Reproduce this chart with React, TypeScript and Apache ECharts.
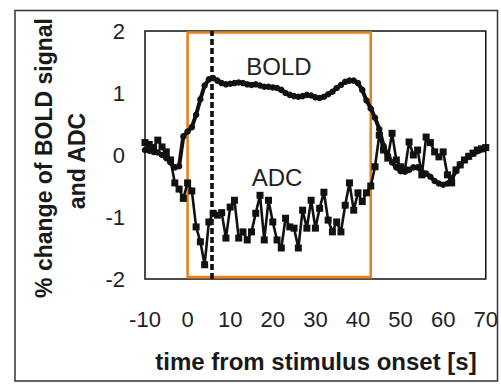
import React, { useEffect, useRef } from "react";
import * as echarts from "echarts";

const TIMES = [
  -10, -9, -8, -7, -6, -5, -4, -3, -2, -1,
  0, 1, 2, 3, 4, 5, 6, 7, 8, 9,
  10, 11, 12, 13, 14, 15, 16, 17, 18, 19,
  20, 21, 22, 23, 24, 25, 26, 27, 28, 29,
  30, 31, 32, 33, 34, 35, 36, 37, 38, 39,
  40, 41, 42, 43, 44, 45, 46, 47, 48, 49,
  50, 51, 52, 53, 54, 55, 56, 57, 58, 59,
  60, 61, 62, 63, 64, 65, 66, 67, 68, 69, 70,
];

const BOLD = [
  0.08, 0.07, 0.05, 0.04, 0.0, -0.05, -0.12, -0.2, -0.18, 0.3,
  0.38, 0.45, 0.65, 0.9, 1.12, 1.22, 1.24, 1.2, 1.16, 1.14,
  1.15, 1.16, 1.17, 1.16, 1.14, 1.13, 1.14, 1.12, 1.1, 1.1,
  1.09, 1.08, 1.05, 1.0, 0.97, 0.95, 0.94, 0.95, 0.97, 0.96,
  0.93, 0.92, 0.94, 0.98, 1.02, 1.08, 1.13, 1.18, 1.2, 1.2,
  1.16, 1.05, 0.88, 0.75, 0.6, 0.42, 0.15, 0.0, -0.12, -0.2,
  -0.26, -0.27, -0.24, -0.2, -0.2, -0.27, -0.3, -0.35, -0.42, -0.46,
  -0.48, -0.46, -0.38, -0.26, -0.15, -0.08, -0.03, 0.02, 0.06, 0.09, 0.12,
];

const ADC = [
  0.2, 0.17, 0.12, 0.24, 0.13, 0.05, -0.08, -0.45, -0.55, -0.7,
  -0.45, -0.58, -1.16, -1.4, -1.77, -1.08, -0.94, -0.97, -0.93, -1.34,
  -0.84, -0.73, -1.34, -1.24, -1.37, -1.24, -0.94, -0.65, -1.37, -0.73,
  -1.08, -1.37, -1.5, -1.02, -1.16, -1.18, -1.5, -0.89, -1.18, -0.73,
  -1.18, -0.86, -0.6, -1.05, -1.24, -1.08, -1.24, -0.81, -0.45, -0.89,
  -0.61, -0.75, -0.61, -0.5, -0.19, 0.32, 0.08, -0.05, 0.35, -0.08,
  -0.19, -0.24, 0.21, 0.0, 0.08, -0.32, 0.29, 0.2, 0.05, -0.03,
  0.05, -0.32, -0.45, -0.24, -0.16, -0.08, -0.02, 0.03, 0.08, 0.1, 0.12,
];

const X_MIN = -10;
const X_MAX = 70;
const X_STEP = 10;
const Y_MIN = -2;
const Y_MAX = 2;
const Y_STEP = 1;

const STIM_START = 0;
const STIM_END = 43;
const PEAK_TIME = 5.6;

const FONT = "'Liberation Sans', Arial, sans-serif";

export default function App() {
  const ref = useRef<HTMLDivElement>(null);

  useEffect(() => {
    if (!ref.current) return;
    const chart = echarts.init(ref.current, undefined, { renderer: "svg" });
    const boldData = TIMES.map((t, i) => [t, BOLD[i]]);
    const adcData = TIMES.map((t, i) => [t, ADC[i]]);

    chart.setOption({
      animation: false,
      grid: {
        left: 145,
        top: 31,
        right: 13,
        bottom: 108,
        show: true,
        borderColor: "#111",
        borderWidth: 1.5,
        backgroundColor: "transparent",
      },
      xAxis: {
        type: "value",
        min: X_MIN,
        max: X_MAX,
        interval: X_STEP,
        axisLine: { show: false },
        axisTick: { show: false },
        splitLine: { show: false },
        axisLabel: {
          margin: 29,
          fontSize: 22,
          fontFamily: FONT,
          color: "#222",
          showMaxLabel: true,
          showMinLabel: true,
        },
      },
      yAxis: {
        type: "value",
        min: Y_MIN,
        max: Y_MAX,
        interval: Y_STEP,
        axisLine: { show: false },
        axisTick: { show: false },
        splitLine: { show: false },
        axisLabel: {
          margin: 20,
          fontSize: 22,
          fontFamily: FONT,
          color: "#222",
        },
      },
      graphic: [
        {
          type: "rect",
          shape: { x: 15, y: 10.5, width: 482.5, height: 370.5 },
          style: { fill: "rgba(0,0,0,0)", stroke: "#333", lineWidth: 1.5 },
          silent: true,
          z: 100,
        },
        {
          type: "text",
          x: 316,
          y: 361,
          style: {
            text: "time from stimulus onset [s]",
            font: `bold 24px ${FONT}`,
            fill: "#1a1a1a",
            align: "center",
            verticalAlign: "middle",
          },
        },
        {
          type: "text",
          x: 44,
          y: 158,
          rotation: Math.PI / 2,
          style: {
            text: "% change of BOLD signal",
            font: `bold 23px ${FONT}`,
            fill: "#1a1a1a",
            align: "center",
            verticalAlign: "middle",
          },
        },
        {
          type: "text",
          x: 77,
          y: 161,
          rotation: Math.PI / 2,
          style: {
            text: "and ADC",
            font: `bold 23px ${FONT}`,
            fill: "#1a1a1a",
            align: "center",
            verticalAlign: "middle",
          },
        },
        {
          type: "text",
          x: 279,
          y: 66,
          style: {
            text: "BOLD",
            font: `24px ${FONT}`,
            fill: "#222",
            align: "center",
            verticalAlign: "middle",
          },
          z: 10,
        },
        {
          type: "text",
          x: 277,
          y: 177,
          style: {
            text: "ADC",
            font: `24px ${FONT}`,
            fill: "#222",
            align: "center",
            verticalAlign: "middle",
          },
          z: 10,
        },
      ],
      series: [
        {
          name: "ADC",
          type: "line",
          data: adcData,
          symbol: "rect",
          symbolSize: 7,
          itemStyle: { color: "#111" },
          lineStyle: { color: "#111", width: 2.6 },
          z: 3,
        },
        {
          name: "BOLD",
          type: "line",
          data: boldData,
          symbol: "circle",
          symbolSize: 6.5,
          itemStyle: { color: "#111" },
          lineStyle: { color: "#111", width: 4 },
          z: 4,
          markLine: {
            silent: true,
            symbol: "none",
            label: { show: false },
            lineStyle: { color: "#111", width: 3.6, type: [6, 3] },
            data: [{ xAxis: PEAK_TIME }],
          },
          markArea: {
            silent: true,
            itemStyle: {
              color: "rgba(0,0,0,0)",
              borderColor: "#E8821E",
              borderWidth: 2.6,
            },
            data: [
              [
                { xAxis: STIM_START, yAxis: 1.975 },
                { xAxis: STIM_END, yAxis: -1.97 },
              ],
            ],
          },
        },
      ],
    });

    return () => chart.dispose();
  }, []);

  return (
    <div
      ref={ref}
      style={{ position: "absolute", left: 0, top: 0, width: 501, height: 387 }}
    />
  );
}
